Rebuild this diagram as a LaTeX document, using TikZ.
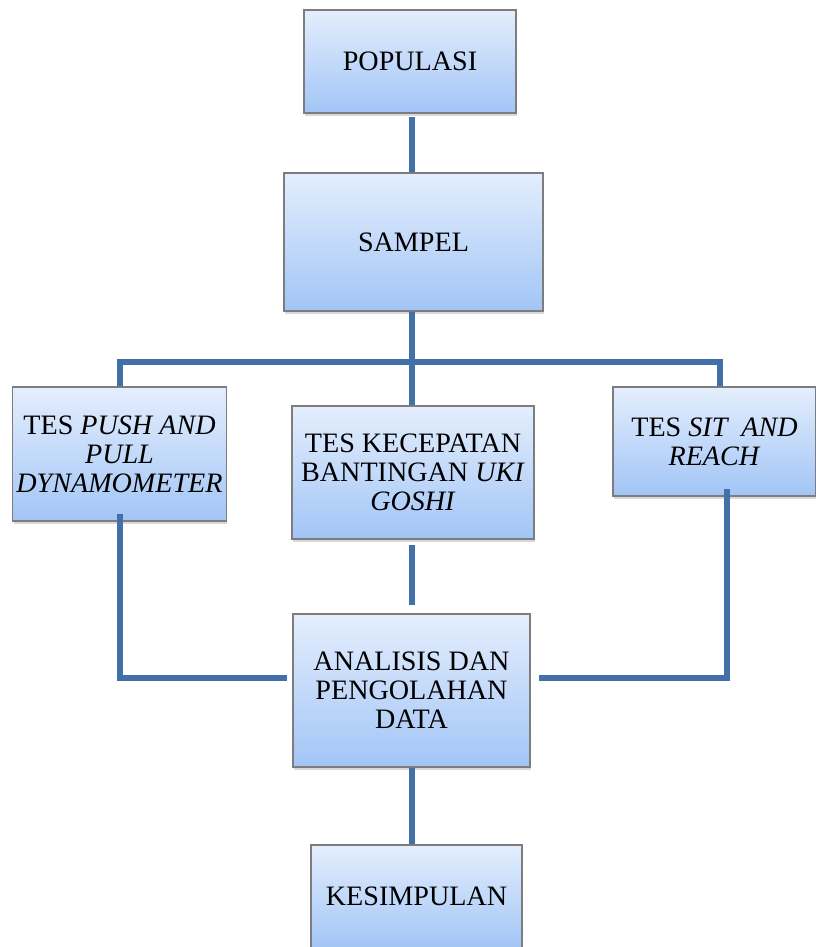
\documentclass[tikz,border=0pt]{standalone}
\usepackage{fontspec}
\setmainfont{Liberation Serif}
\usetikzlibrary{shadows}
\definecolor{linkblue}{RGB}{66,112,168}
\definecolor{boxtop}{RGB}{228,238,253}
\definecolor{boxbot}{RGB}{162,197,246}
\definecolor{boxedge}{RGB}{125,125,125}

\begin{document}
\begin{tikzpicture}[
  box/.style={draw=boxedge, line width=0.6pt, top color=boxtop, bottom color=boxbot,
              align=center, inner sep=2pt, font=\fontsize{16}{16.5}\selectfont,
              drop shadow={shadow xshift=0.6pt, shadow yshift=-1.6pt, opacity=0.3}},
  link/.style={draw=linkblue, line width=3.3pt}
]
\useasboundingbox (0,0) rectangle (16.3,18.94);
% boxes
\node[box, minimum width=4.24cm, minimum height=2.06cm] (pop) at (8.20,17.71) {POPULASI};
\node[box, minimum width=5.18cm, minimum height=2.76cm] (smp) at (8.27,14.10) {SAMPEL};
\node[box, minimum width=4.26cm, minimum height=2.68cm] (tpush) at (2.39,9.86)
  {TES \textit{PUSH AND}\\ \textit{PULL}\\ \textit{DYNAMOMETER}};
\node[box, minimum width=4.84cm, minimum height=2.66cm] (tkec) at (8.26,9.49)
  {TES KECEPATAN\\ BANTINGAN \textit{UKI}\\ \textit{GOSHI}};
\node[box, minimum width=4.06cm, minimum height=2.18cm] (tsit) at (14.29,10.11)
  {TES \textit{SIT\ \ AND}\\ \textit{REACH}};
\node[box, minimum width=4.74cm, minimum height=3.06cm] (anl) at (8.23,5.13)
  {ANALISIS DAN\\ PENGOLAHAN\\ DATA};
\node[box, minimum width=4.22cm, minimum height=2.06cm] (ksm) at (8.33,1.01) {KESIMPULAN};
% connectors
\coordinate (spn) at (8.24,11.70);
\coordinate (busL) at (2.40,11.70);
\coordinate (busR) at (14.40,11.70);
\coordinate (jnL) at (2.40,5.38);
\coordinate (jnR) at (14.54,5.38);
\draw[link, shorten <=2pt] (spn |- pop.south) -- (spn |- smp.north);
\draw[link] (spn |- smp.south) -- (spn);
\draw[link] (busL |- tpush.north) -- (busL) -- (busR) -- (busR |- tsit.north);
\draw[link] (spn) -- (spn |- tkec.north);
\draw[link, shorten <=3pt, shorten >=5pt] (spn |- tkec.south) -- (spn |- anl.north);
\draw[link, shorten <=-4pt, shorten >=3pt] (busL |- tpush.south) -- (jnL) -- (jnL -| anl.west);
\draw[link, shorten <=-4pt, shorten >=5pt] (jnR |- tsit.south) -- (jnR) -- (jnR -| anl.east);
\draw[link] (spn |- anl.south) -- (spn |- ksm.north);
\end{tikzpicture}
\end{document}
